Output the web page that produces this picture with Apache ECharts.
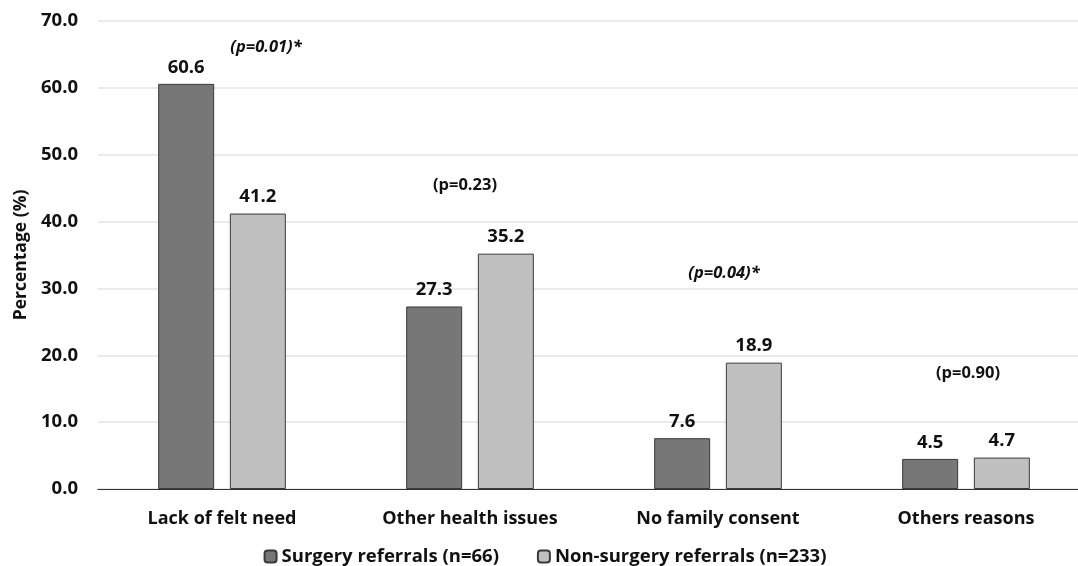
<!DOCTYPE html>
<html><head><meta charset="utf-8">
<script src="https://cdn.jsdelivr.net/npm/echarts@6/dist/echarts.min.js"></script>
<style>html,body{margin:0;padding:0;background:#fff;overflow:hidden}#c{width:1090px;height:566px}</style>
</head><body><div id="c"></div>
<script>
const categories = ['Lack of felt need','Other health issues','No family consent','Others reasons'];
const surgery = [60.6, 27.3, 7.6, 4.5];
const nonSurgery = [41.2, 35.2, 18.9, 4.7];
const pTexts = ['(p=0.01)*','(p=0.23)','(p=0.04)*','(p=0.90)'];
const pItalic = [true, false, true, false];
const pLevels = [66.0, 45.5, 32.3, 17.3];
const pShift = [44, -5, 6, 2];
const seriesNames = ['Surgery referrals (n=66)','Non-surgery referrals (n=233)'];
const FONT = '"Open Sans", sans-serif';

const chart = echarts.init(document.getElementById('c'));
const barLabel = {show:true, position:'top', distance:7, fontFamily:FONT, fontWeight:'bold', fontSize:18.5, color:'#111'};
chart.setOption({
  animation:false,
  grid:{left:98, top:21, right:0, bottom:77, containLabel:false},
  legend:{data:seriesNames, top:542, left:'center', itemWidth:12, itemHeight:12, itemGap:38,
    textStyle:{fontFamily:FONT, fontWeight:'bold', fontSize:18.5, color:'#111'}},
  xAxis:{type:'category', data:categories,
    axisLine:{lineStyle:{color:'#333', width:1.2}}, axisTick:{show:false},
    axisLabel:{fontFamily:FONT, fontWeight:'bold', fontSize:18, color:'#111', margin:21}},
  yAxis:{type:'value', min:0, max:70, interval:10,
    name:'Percentage (%)', nameLocation:'middle', nameGap:68, nameRotate:90,
    nameTextStyle:{fontFamily:FONT, fontWeight:'bold', fontSize:17.5, color:'#111'},
    axisLine:{show:false}, axisTick:{show:false},
    splitLine:{lineStyle:{color:'#e3e3e3', width:1.5}},
    axisLabel:{formatter:v=>v.toFixed(1), fontFamily:FONT, fontWeight:'bold', fontSize:18.5, color:'#111', margin:20}},
  series:[
    {name:seriesNames[0], type:'bar', data:surgery, barWidth:56, barGap:'28%',
      itemStyle:{color:'#777777', borderColor:'#3a3a3a', borderWidth:1},
      label:barLabel},
    {name:seriesNames[1], type:'bar', data:nonSurgery, barWidth:56,
      itemStyle:{color:'#c0c0c0', borderColor:'#3a3a3a', borderWidth:1},
      label:barLabel},
    {name:'p', type:'scatter', symbolSize:1, silent:true,
      itemStyle:{color:'rgba(0,0,0,0)', opacity:1},
      data:categories.map((c,i)=>({value:[c, pLevels[i]],
        label:{show:true, position:'inside', formatter:pTexts[i], offset:[pShift[i],0],
          fontStyle:pItalic[i]?'italic':'normal', fontFamily:FONT, fontWeight:'bold', fontSize:16.5, color:'#111', opacity:1}}))}
  ]
});
</script></body></html>
